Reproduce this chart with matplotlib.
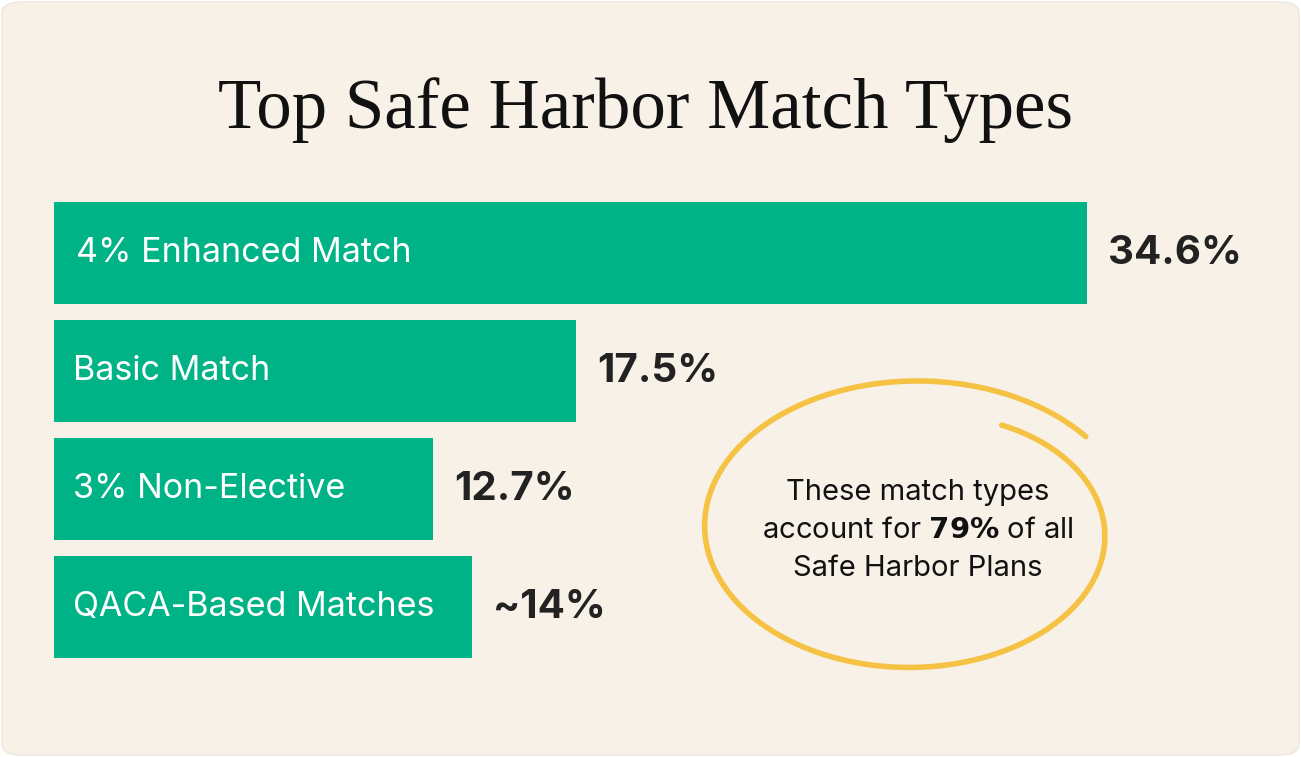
import numpy as np
import matplotlib
matplotlib.use("Agg")
import matplotlib.pyplot as plt
from matplotlib.patches import FancyBboxPatch

categories = ["4% Enhanced Match", "Basic Match", "3% Non-Elective", "QACA-Based Matches"]
values = [34.6, 17.5, 12.7, 14.0]
value_labels = ["34.6%", "17.5%", "12.7%", "~14%"]

W, H = 1301, 757
fig = plt.figure(figsize=(W/100, H/100), dpi=100)
fig.patch.set_facecolor("white")
bg = FancyBboxPatch((2/W, 2/H), (W-4)/W, (H-4)/H, boxstyle="round,pad=0,rounding_size=0.015",
                    transform=fig.transFigure, facecolor="#f7f1e7", edgecolor="#ece6dc", lw=1, zorder=-5)
fig.patches.append(bg)

fig.text(645/W, 1-110/H, "Top Safe Harbor Match Types", ha="center", va="center",
         fontsize=51, family="Liberation Serif", color="#111111")

ax = fig.add_axes([54/W, 1-666/H, (1087-54)/W, (666-194)/H])
ax.set_zorder(2)
ax.set_facecolor("none")
ax.set_xlim(0, 34.6)
ax.set_ylim(3.5, -0.5)
ax.axis("off")
y = np.arange(len(categories))
ax.barh(y, values, height=0.864, color="#00b386", left=0)
for i, (c, v, lab) in enumerate(zip(categories, values, value_labels)):
    ax.text(0.75 if i == 0 else 0.65, i, c, color="white", va="center", ha="left", fontsize=24.5, family="Inter")
    ax.text(v + 0.7, i, lab, color="#222222", va="center", ha="left", fontsize=29, fontweight="bold", family="Inter")

# hand-drawn loop
t = np.linspace(np.radians(38), np.radians(360 + 60), 400)
cx, cy, rx, ry = 915, 528, 197, 135
f = (t - t[0]) / (t[-1] - t[0])
r = 1.1 - 0.08 * f - 0.14 * f**4
xs = cx + rx*r*np.cos(t)
ys = cy - ry*r*np.sin(t)
fig.add_artist(plt.Line2D(xs/W, 1-ys/H, color="#f5c244", lw=4, solid_capstyle="round", zorder=3))

kw = dict(ha="center", va="center", fontsize=21, family="Inter", color="#111111")
fig.text(918/W, 1-492/H, "These match types", **kw)
fig.text(918/W, 1-530/H, "account for $\\bf{79\\%}$ of all", **kw)
fig.text(918/W, 1-568/H, "Safe Harbor Plans", **kw)

fig.savefig("out.png", dpi=100, facecolor="white")
